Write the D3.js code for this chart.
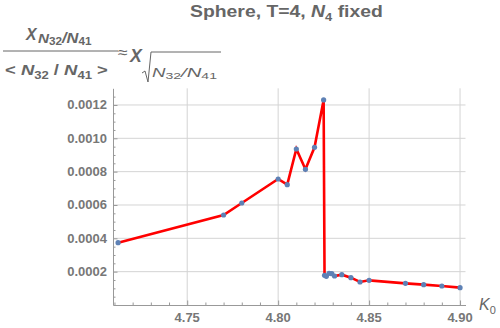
<!DOCTYPE html>
<html>
<head>
    <meta charset="utf-8" />
    <title>Sphere T=4</title>
    <script src="https://cdn.jsdelivr.net/npm/d3@7/dist/d3.min.js"></script>
    <style>
        body { margin: 0; background: #fff; }
        text { font-family: "Liberation Sans", Arial, sans-serif; fill: #666; }
        .grid line { stroke: #d4d4d4; stroke-width: 1; }
        .tick-label { font-size: 13px; font-weight: bold; fill: #777; }
    </style>
</head>
<body>
    <div id="chart"></div>
    <script>
        // kappa_0 values and susceptibility ratio
        var kappa = [4.712, 4.770, 4.780, 4.800, 4.805, 4.810, 4.815, 4.820, 4.825,
                     4.8255, 4.8265, 4.828, 4.8295, 4.831, 4.835, 4.840, 4.845, 4.850,
                     4.870, 4.880, 4.890, 4.900];
        var chi = [0.000374, 0.000540, 0.000612, 0.000756, 0.000722, 0.000936, 0.000814, 0.000946, 0.001230,
                   0.000178, 0.000172, 0.000190, 0.000188, 0.000174, 0.000182, 0.000164, 0.000138, 0.000148,
                   0.000130, 0.000122, 0.000114, 0.000104];
        var xMajor = [4.75, 4.80, 4.85, 4.90];
        var yMajor = [0.0002, 0.0004, 0.0006, 0.0008, 0.0010, 0.0012];

        var width = 500;
        var height = 328;

        var data = kappa.map(function (k, i) { return { k: k, v: chi[i] }; });

        var x = d3.scaleLinear().domain([4.7092, 4.903]).range([113, 465.5]);
        var y = d3.scaleLinear().domain([0, 0.0013]).range([305, 88.3]);

        var svg = d3.select("#chart")
            .append("svg")
            .attr("width", width)
            .attr("height", height);

        // stretch a text horizontally so it spans [x0, x0 + w]
        function fit(t, x0, y0, w) {
            var bb = t.node().getBBox();
            var sx = w / bb.width;
            t.attr("transform", "translate(" + (x0 - bb.x * sx) + "," + y0 + ") scale(" + sx + ",1)");
        }

        // grid
        var grid = svg.append("g").attr("class", "grid");
        grid.selectAll(".gx")
            .data(xMajor)
            .enter()
            .append("line")
            .attr("x1", function (d) { return x(d); })
            .attr("x2", function (d) { return x(d); })
            .attr("y1", y.range()[1])
            .attr("y2", y.range()[0]);
        grid.selectAll(".gy")
            .data(yMajor)
            .enter()
            .append("line")
            .attr("y1", function (d) { return y(d); })
            .attr("y2", function (d) { return y(d); })
            .attr("x1", x.range()[0])
            .attr("x2", x.range()[1]);

        // axes (ticks pointing inward)
        var xMinor = d3.range(4.71, 4.9001, 0.01);
        var yMinor = d3.range(0.00005, 0.00126, 0.00005);

        var xAxis = d3.axisBottom(x)
            .tickValues(xMinor)
            .tickSize(0)
            .tickFormat("");
        var gx = svg.append("g")
            .attr("transform", "translate(0," + y(0) + ")")
            .call(xAxis);
        gx.select(".domain").attr("stroke", "#999");
        gx.selectAll(".tick line")
            .attr("stroke", "#999")
            .attr("y2", function (d) {
                return xMajor.some(function (m) { return Math.abs(m - d) < 1e-6; }) ? -4.5 : -2.5;
            });

        var yAxis = d3.axisLeft(y)
            .tickValues(yMinor)
            .tickSize(0)
            .tickFormat("");
        var gy = svg.append("g")
            .attr("transform", "translate(" + x.range()[0] + ",0)")
            .call(yAxis);
        gy.select(".domain").attr("stroke", "#999");
        gy.selectAll(".tick line")
            .attr("stroke", "#999")
            .attr("x2", function (d) {
                return yMajor.some(function (m) { return Math.abs(m - d) < 1e-9; }) ? 4.5 : 2.5;
            });

        svg.selectAll(".xlab")
            .data(xMajor)
            .enter()
            .append("text")
            .attr("class", "tick-label")
            .attr("x", function (d) { return x(d); })
            .attr("y", 322)
            .attr("text-anchor", "middle")
            .text(d3.format(".2f"));

        svg.selectAll(".ylab")
            .data(yMajor)
            .enter()
            .append("text")
            .attr("class", "tick-label")
            .attr("x", 107)
            .attr("y", function (d) { return y(d) + 4.5; })
            .attr("text-anchor", "end")
            .text(d3.format(".4f"));

        // line + points
        var line = d3.line()
            .x(function (d) { return x(d.k); })
            .y(function (d) { return y(d.v); });

        svg.append("path")
            .datum(data)
            .attr("d", line)
            .attr("fill", "none")
            .attr("stroke", "#ff0000")
            .attr("stroke-width", 2.6)
            .attr("stroke-linejoin", "miter");

        svg.selectAll(".pt")
            .data(data)
            .enter()
            .append("circle")
            .attr("cx", function (d) { return x(d.k); })
            .attr("cy", function (d) { return y(d.v); })
            .attr("r", 2.6)
            .attr("fill", "#5e81b5");

        // title
        var title = svg.append("text")
            .style("font-size", "16.5px")
            .style("font-weight", "bold");
        title.append("tspan").text("Sphere, T=4, ");
        title.append("tspan").style("font-style", "italic").text("N");
        title.append("tspan").attr("dy", 4).style("font-size", "11px").text("4");
        title.append("tspan").attr("dy", -4).text(" fixed");
        fit(title, 190, 17, 193);

        // axis label K0
        var kl = svg.append("text")
            .attr("x", 479)
            .attr("y", 310)
            .style("font-size", "16px")
            .style("font-style", "italic");
        kl.append("tspan").text("K");
        kl.append("tspan").attr("dy", 4).style("font-size", "11px").style("font-style", "normal").text("0");

        // y label: fraction ≈ X_sqrt(...)
        var lab = svg.append("g").style("font-weight", "bold");

        var numX = lab.append("text").style("font-size", "17px").style("font-style", "italic").text("X");
        fit(numX, 25, 40, 13);
        var num = lab.append("text");
        num.append("tspan").style("font-size", "13px").style("font-style", "italic").text("N");
        num.append("tspan").attr("dy", 2).style("font-size", "10px").text("32");
        num.append("tspan").attr("dy", -2).style("font-size", "14px").style("font-style", "italic").text("/N");
        num.append("tspan").attr("dy", 2).style("font-size", "10px").text("41");
        fit(num, 38, 43, 54);

        lab.append("line")
            .attr("x1", 3).attr("x2", 118)
            .attr("y1", 51).attr("y2", 51)
            .attr("stroke", "#666").attr("stroke-width", 1);

        var den = lab.append("text").style("font-size", "15.5px");
        den.append("tspan").text("< ");
        den.append("tspan").style("font-style", "italic").text("N");
        den.append("tspan").attr("dy", 4).style("font-size", "11px").text("32");
        den.append("tspan").attr("dy", -4).text(" / ");
        den.append("tspan").style("font-style", "italic").text("N");
        den.append("tspan").attr("dy", 4).style("font-size", "11px").text("41");
        den.append("tspan").attr("dy", -4).text(" >");
        fit(den, 5, 75, 103);

        var approx = lab.append("text").style("font-size", "16px").style("font-weight", "normal").text("≈");
        fit(approx, 118, 58, 10);
        var bigX = lab.append("text").style("font-size", "19px").style("font-style", "italic").text("X");
        fit(bigX, 129, 62, 14);

        lab.append("path")
            .attr("d", "M142,73 L145,71 L148,82 L151,52 L221,52")
            .attr("fill", "none")
            .attr("stroke", "#666")
            .attr("stroke-width", 1);

        var rad = lab.append("text").style("font-weight", "normal");
        rad.append("tspan").style("font-size", "12px").style("font-style", "italic").text("N");
        rad.append("tspan").attr("dy", 2).style("font-size", "9px").text("32");
        rad.append("tspan").attr("dy", -2).style("font-size", "13px").style("font-style", "italic").text("/N");
        rad.append("tspan").attr("dy", 2).style("font-size", "9px").text("41");
        fit(rad, 152, 77, 65);
    </script>
</body>
</html>
